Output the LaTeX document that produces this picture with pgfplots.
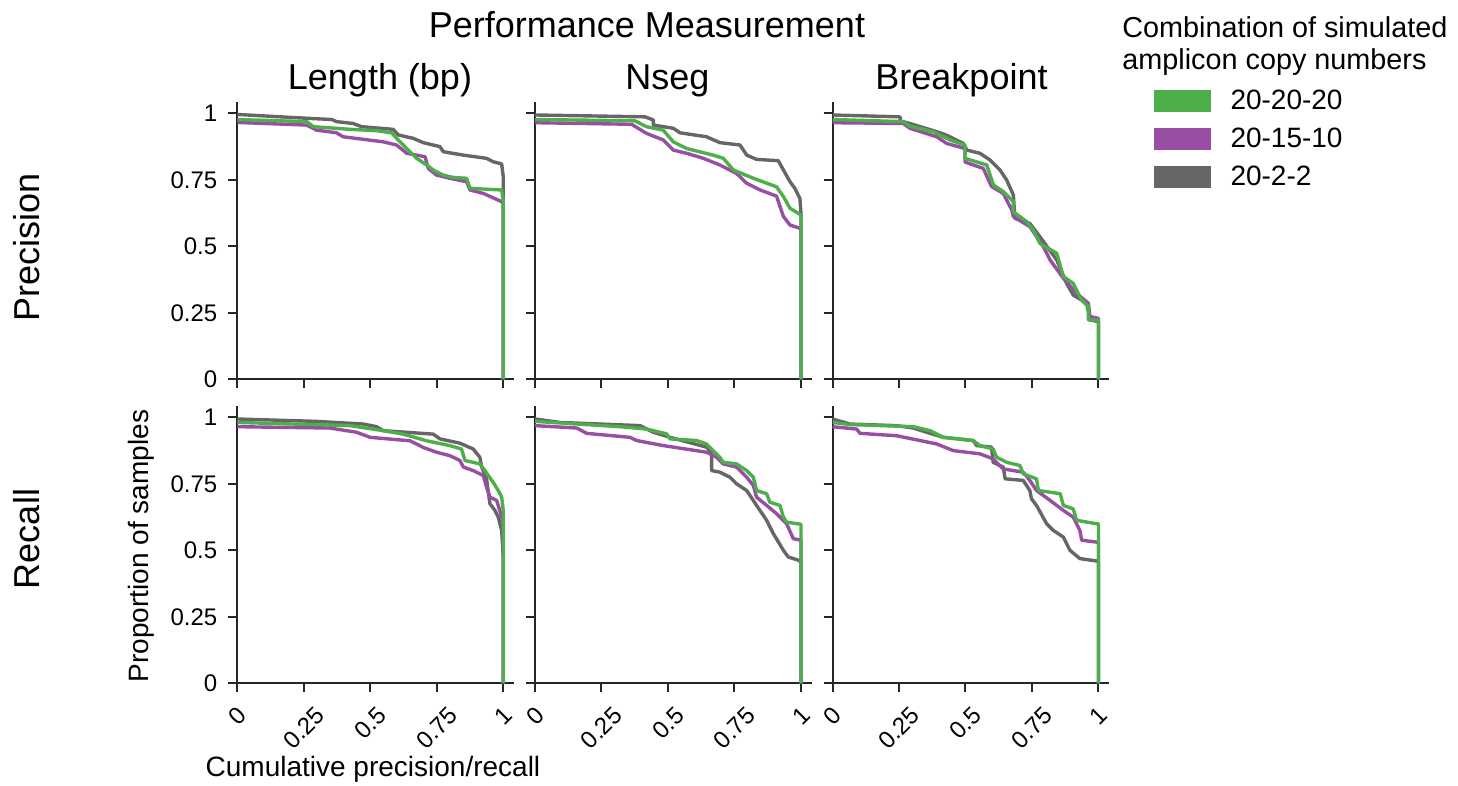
\documentclass[border=0pt]{standalone}
\usepackage{fontspec}
\setmainfont{Liberation Sans}
\usepackage{graphicx}
\usepackage{pgfplots}
\pgfplotsset{compat=1.18}
\definecolor{cgreen}{RGB}{77,175,74}
\definecolor{cpurple}{RGB}{152,78,163}
\definecolor{cgrey}{RGB}{102,102,102}
\pgfplotsset{
  panel/.style={
    scale only axis, width=138.3pt, height=138.8pt,
    xmin=0, xmax=1.04, ymin=0, ymax=1.044,
    axis lines=left, axis line style={-, line width=1pt, black!85},
    tick style={line width=1pt, black!85}, major tick length=4.5pt, tick align=outside,
    xtick={0,0.25,0.5,0.75,1}, ytick={0,0.25,0.5,0.75,1},
    xticklabels={}, yticklabels={},
    ticklabel style={font=\fontsize{12}{14}\selectfont},
    anchor=south west,
  },
  ylab/.style={yticklabels={0,0.25,0.5,0.75,1}, yticklabel style={xshift=-2pt}},
  xlab/.style={xticklabels={\rotatebox{45}{0},\rotatebox{45}{0.25},\rotatebox{45}{0.5},\rotatebox{45}{0.75},\rotatebox{45}{1}},
    xticklabel style={anchor=north, inner sep=0pt, yshift=-6.3pt}},
  sg/.style={line width=1.7pt, color=cgreen, line join=round},
  sp/.style={line width=1.7pt, color=cpurple, line join=round},
  sy/.style={line width=1.7pt, color=cgrey, line join=round},
}
\begin{document}
\begin{tikzpicture}
\useasboundingbox (0,0) rectangle (729pt,393pt);
% ---------- top row: Precision ----------
\begin{axis}[panel, ylab, at={(118.65pt,203.35pt)}]
\addplot[sy] coordinates {(0,0.996) (0.273,0.981) (0.355,0.977) (0.373,0.969) (0.436,0.962) (0.467,0.950) (0.586,0.940) (0.605,0.919) (0.662,0.906) (0.699,0.890) (0.762,0.875) (0.774,0.856) (0.850,0.843) (0.937,0.831) (0.962,0.818) (0.994,0.810) (1,0.762) (1,0)};
\addplot[sp] coordinates {(0,0.966) (0.261,0.956) (0.298,0.937) (0.373,0.927) (0.398,0.912) (0.549,0.893) (0.599,0.881) (0.637,0.850) (0.674,0.843) (0.706,0.837) (0.718,0.793) (0.749,0.768) (0.799,0.756) (0.862,0.743) (0.875,0.712) (0.925,0.699) (0.994,0.668) (1,0.662) (1,0)};
\addplot[sg] coordinates {(0,0.977) (0.261,0.969) (0.286,0.950) (0.424,0.940) (0.524,0.935) (0.580,0.927) (0.605,0.900) (0.637,0.868) (0.674,0.831) (0.712,0.806) (0.737,0.787) (0.774,0.768) (0.812,0.759) (0.862,0.756) (0.875,0.718) (0.994,0.712) (1,0.674) (1,0)};
\end{axis}
\begin{axis}[panel, at={(267.5pt,203.35pt)}]
\addplot[sy] coordinates {(0,0.994) (0.414,0.987) (0.445,0.975) (0.445,0.956) (0.520,0.944) (0.545,0.927) (0.645,0.912) (0.695,0.890) (0.771,0.881) (0.796,0.843) (0.833,0.827) (0.915,0.822) (0.934,0.787) (0.959,0.743) (0.977,0.718) (0.996,0.680) (1,0.624) (1,0)};
\addplot[sp] coordinates {(0,0.965) (0.363,0.959) (0.419,0.925) (0.482,0.900) (0.520,0.862) (0.570,0.850) (0.633,0.831) (0.695,0.806) (0.758,0.774) (0.796,0.737) (0.846,0.712) (0.908,0.689) (0.934,0.612) (0.959,0.580) (0.996,0.568) (1,0.568) (1,0)};
\addplot[sg] coordinates {(0,0.977) (0.376,0.972) (0.419,0.950) (0.482,0.937) (0.520,0.893) (0.570,0.868) (0.670,0.843) (0.708,0.831) (0.746,0.787) (0.821,0.756) (0.908,0.724) (0.934,0.687) (0.959,0.643) (1,0.618) (1,0)};
\end{axis}
\begin{axis}[panel, at={(416.25pt,203.35pt)},
  legend image code/.code={\fill[#1] (0pt,-5.5pt) rectangle (28.5pt,5.5pt);},
  legend style={at={(1,1)}, anchor=north west, xshift=22pt, yshift=6pt, draw=none, fill=none,
    inner sep=0pt, row sep=7.75pt, font=\fontsize{14}{16}\selectfont,
    nodes={inner sep=0pt},
    /tikz/every odd column/.append style={column sep=10pt}},
  legend cell align=left]
\addplot[sy, forget plot] coordinates {(0,0.994) (0.254,0.987) (0.254,0.972) (0.291,0.962) (0.392,0.931) (0.429,0.918) (0.492,0.887) (0.505,0.862) (0.554,0.850) (0.592,0.825) (0.630,0.787) (0.655,0.749) (0.680,0.693) (0.686,0.605) (0.742,0.586) (0.780,0.536) (0.843,0.449) (0.880,0.361) (0.905,0.317) (0.956,0.286) (0.968,0.223) (1,0.217) (1,0)};
\addplot[sp, forget plot] coordinates {(0,0.965) (0.266,0.962) (0.291,0.944) (0.392,0.912) (0.429,0.887) (0.498,0.868) (0.498,0.817) (0.567,0.793) (0.598,0.725) (0.642,0.699) (0.674,0.637) (0.680,0.612) (0.742,0.574) (0.793,0.499) (0.818,0.449) (0.868,0.380) (0.918,0.323) (0.962,0.286) (0.968,0.236) (1,0.229) (1,0)};
\addplot[sg, forget plot] coordinates {(0,0.977) (0.266,0.969) (0.291,0.952) (0.379,0.931) (0.442,0.900) (0.498,0.881) (0.498,0.831) (0.580,0.806) (0.605,0.731) (0.642,0.706) (0.680,0.668) (0.680,0.630) (0.730,0.593) (0.755,0.561) (0.780,0.511) (0.843,0.474) (0.868,0.386) (0.905,0.361) (0.936,0.298) (0.962,0.273) (0.962,0.223) (1,0.223) (1,0)};
\addlegendimage{fill=cgreen, draw=none}
\addlegendentry{20-20-20}
\addlegendimage{fill=cpurple, draw=none}
\addlegendentry{20-15-10}
\addlegendimage{fill=cgrey, draw=none}
\addlegendentry{20-2-2}
\end{axis}
% ---------- bottom row: Recall ----------
\begin{axis}[panel, ylab, xlab, at={(118.65pt,51.35pt)}]
\addplot[sy] coordinates {(0,0.994) (0.298,0.985) (0.474,0.975) (0.524,0.965) (0.549,0.950) (0.737,0.937) (0.762,0.919) (0.837,0.903) (0.887,0.881) (0.912,0.850) (0.919,0.813) (0.937,0.769) (0.950,0.675) (0.969,0.650) (0.981,0.625) (0.994,0.575) (1,0.475) (1,0)};
\addplot[sp] coordinates {(0,0.965) (0.348,0.960) (0.449,0.944) (0.499,0.925) (0.649,0.912) (0.674,0.900) (0.699,0.887) (0.749,0.869) (0.799,0.856) (0.837,0.838) (0.850,0.813) (0.887,0.800) (0.925,0.781) (0.937,0.738) (0.950,0.700) (0.975,0.688) (0.987,0.650) (1,0.600) (1,0)};
\addplot[sg] coordinates {(0,0.981) (0.424,0.969) (0.549,0.950) (0.624,0.937) (0.712,0.912) (0.799,0.894) (0.843,0.881) (0.856,0.838) (0.912,0.825) (0.931,0.800) (0.944,0.781) (0.962,0.756) (0.981,0.725) (0.994,0.700) (1,0.650) (1,0)};
\end{axis}
\begin{axis}[panel, xlab, at={(267.5pt,51.35pt)}]
\addplot[sy] coordinates {(0,0.994) (0.094,0.981) (0.395,0.969) (0.445,0.944) (0.508,0.925) (0.645,0.888) (0.664,0.869) (0.664,0.800) (0.695,0.794) (0.733,0.775) (0.758,0.750) (0.796,0.725) (0.833,0.669) (0.871,0.613) (0.896,0.563) (0.934,0.500) (0.952,0.475) (0.990,0.463) (1,0.456) (1,0)};
\addplot[sp] coordinates {(0,0.969) (0.157,0.960) (0.194,0.940) (0.357,0.925) (0.382,0.913) (0.482,0.894) (0.645,0.869) (0.683,0.850) (0.708,0.825) (0.758,0.813) (0.796,0.775) (0.821,0.744) (0.833,0.700) (0.871,0.669) (0.908,0.638) (0.946,0.600) (0.971,0.544) (1,0.538) (1,0)};
\addplot[sg] coordinates {(0,0.985) (0.320,0.965) (0.420,0.956) (0.495,0.938) (0.508,0.919) (0.608,0.913) (0.645,0.900) (0.664,0.881) (0.695,0.850) (0.708,0.831) (0.758,0.825) (0.796,0.800) (0.821,0.775) (0.833,0.725) (0.871,0.713) (0.883,0.681) (0.921,0.669) (0.934,0.625) (0.946,0.606) (1,0.598) (1,0)};
\end{axis}
\begin{axis}[panel, xlab, at={(416.25pt,51.35pt)}]
\addplot[sy] coordinates {(0,0.994) (0.066,0.975) (0.241,0.969) (0.304,0.960) (0.354,0.944) (0.417,0.925) (0.529,0.913) (0.542,0.894) (0.598,0.888) (0.604,0.831) (0.642,0.813) (0.649,0.769) (0.717,0.763) (0.742,0.725) (0.748,0.694) (0.767,0.669) (0.805,0.600) (0.830,0.575) (0.868,0.550) (0.893,0.500) (0.930,0.469) (0.993,0.460) (1,0.460) (1,0)};
\addplot[sp] coordinates {(0,0.965) (0.091,0.956) (0.103,0.940) (0.241,0.931) (0.329,0.913) (0.392,0.900) (0.454,0.875) (0.554,0.863) (0.604,0.844) (0.642,0.806) (0.717,0.794) (0.742,0.763) (0.767,0.725) (0.818,0.688) (0.868,0.650) (0.905,0.625) (0.930,0.575) (0.937,0.538) (0.993,0.531) (1,0.531) (1,0)};
\addplot[sg] coordinates {(0,0.981) (0.066,0.973) (0.304,0.965) (0.367,0.950) (0.417,0.925) (0.529,0.913) (0.554,0.894) (0.604,0.881) (0.617,0.850) (0.655,0.831) (0.705,0.819) (0.717,0.788) (0.767,0.769) (0.774,0.725) (0.856,0.713) (0.868,0.669) (0.905,0.656) (0.918,0.613) (0.993,0.600) (1,0.600) (1,0)};
\end{axis}
% ---------- texts ----------
\node[anchor=base, font=\fontsize{18}{21}\selectfont, inner sep=0pt] at (323.5pt,374pt) {Performance Measurement};
\node[anchor=base, font=\fontsize{18}{21}\selectfont, inner sep=0pt] at (190pt,348pt) {Length (bp)};
\node[anchor=base, font=\fontsize{18}{21}\selectfont, inner sep=0pt] at (333.75pt,348pt) {Nseg};
\node[anchor=base, font=\fontsize{18}{21}\selectfont, inner sep=0pt] at (480.75pt,348pt) {Breakpoint};
\node[rotate=90, font=\fontsize{18}{21}\selectfont, inner sep=0pt] at (13.5pt,269.5pt) {Precision};
\node[rotate=90, font=\fontsize{18}{21}\selectfont, inner sep=0pt] at (13.5pt,123.5pt) {Recall};
\node[rotate=90, font=\fontsize{14}{16}\selectfont, inner sep=0pt] at (70.5pt,120pt) {Proportion of samples};
\node[anchor=base, font=\fontsize{14}{16}\selectfont, inner sep=0pt] at (186.5pt,4.5pt) {Cumulative precision/recall};
\node[anchor=base west, font=\fontsize{14.4}{16}\selectfont, inner sep=0pt] at (561pt,374pt) {Combination of simulated};
\node[anchor=base west, font=\fontsize{14.4}{16}\selectfont, inner sep=0pt] at (561pt,358pt) {amplicon copy numbers};
\end{tikzpicture}
\end{document}
